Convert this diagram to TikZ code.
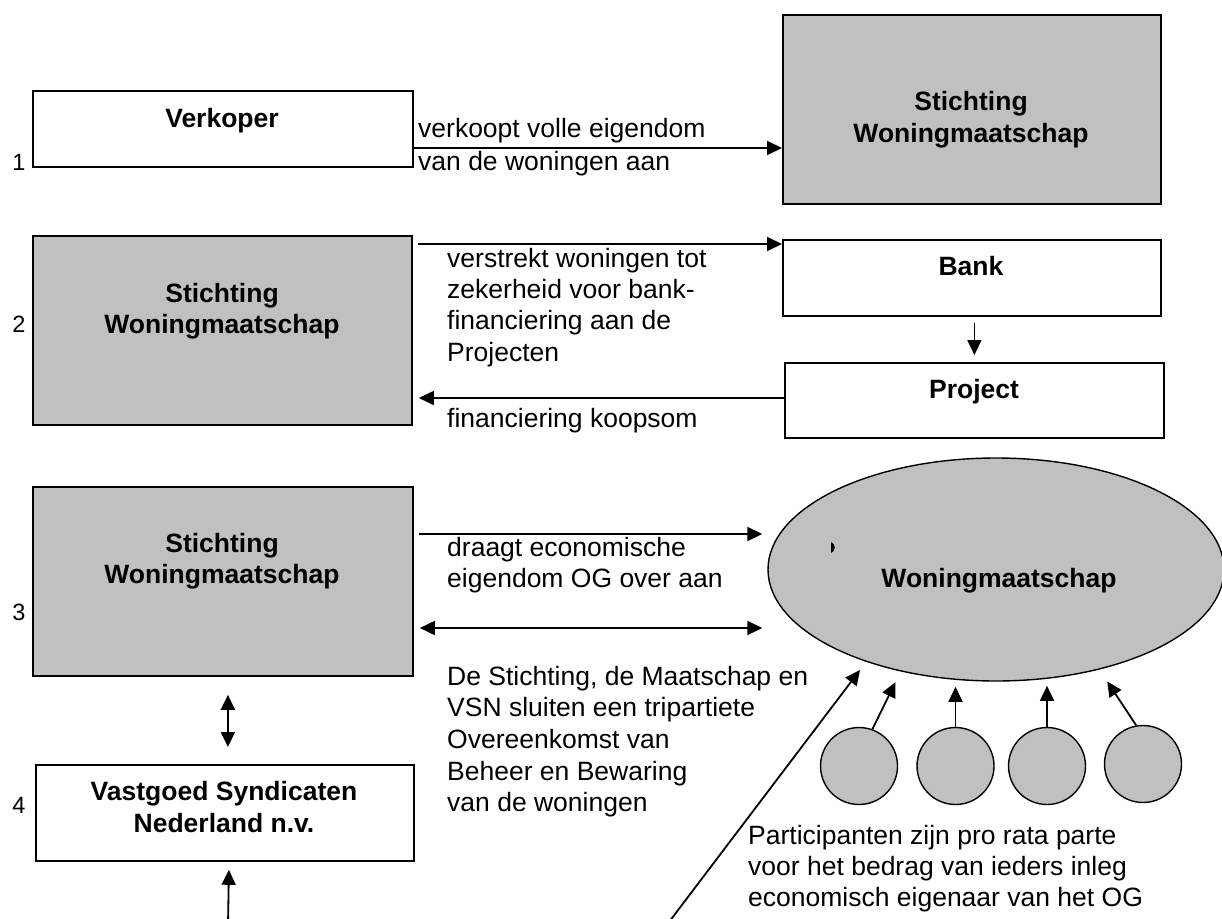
\documentclass[tikz,border=0pt]{standalone}
\usepackage{fontspec}
\setmainfont{Liberation Sans}
\usetikzlibrary{arrows.meta,calc,shapes.geometric}
\definecolor{boxgray}{RGB}{192,192,192}
\tikzset{
  box/.style={draw, line width=1.8pt, anchor=north west, inner sep=0pt},
  graybox/.style={box, fill=boxgray},
  bt/.style={font=\bfseries\fontsize{26.5}{31.5}\selectfont, anchor=base, inner sep=0pt},
  lt/.style={font=\fontsize{26.5}{31.5}\selectfont, anchor=base west, inner sep=0pt},
  num/.style={font=\fontsize{23.5}{28}\selectfont, anchor=base, inner sep=0pt},
  arr/.style={line width=1.8pt, -{Triangle[length=15pt,width=14pt]}},
  darr/.style={line width=1.8pt, {Triangle[length=15pt,width=14pt]}-{Triangle[length=15pt,width=14pt]}},
  part/.style={circle, draw, line width=1.4pt, fill=boxgray, minimum size=77pt, inner sep=0pt},
}
\begin{document}
\begin{tikzpicture}[x=1pt,y=-1pt]
\useasboundingbox (0,0) rectangle (1222,918);

% boxes
\node[box, minimum width=380pt, minimum height=76pt] (verk) at (32,90) {};
\node[graybox, minimum width=378pt, minimum height=189pt] (sw1) at (782,14) {};
\node[graybox, minimum width=379pt, minimum height=189pt] (sw2) at (32,235) {};
\node[box, minimum width=378pt, minimum height=76pt] (bank) at (782,239) {};
\node[box, minimum width=379pt, minimum height=75pt] (proj) at (784,362) {};
\node[graybox, minimum width=380pt, minimum height=189pt] (sw3) at (32,486) {};
\node[box, minimum width=378pt, minimum height=96pt] (vsn) at (35,764) {};
\node[ellipse, draw, line width=1.4pt, fill=boxgray, minimum width=456pt, minimum height=223pt, inner sep=0pt] (wm) at (996,569.5) {};
\node[part] (c1) at (859,766) {};
\node[part] (c2) at (955.5,766) {};
\node[part] (c3) at (1047,766) {};
\node[part] (c4) at (1143,764) {};

% small mark in ellipse
\fill (831,542) .. controls (836,544) and (836,551) .. (831,553) -- cycle;

% box texts
\node[bt] (tverk) at (222,127) {Verkoper};
\node[bt] (tsw1a) at (971,110) {Stichting};
\node[bt] (tsw1b) at (971,142) {Woningmaatschap};
\node[bt] (tsw2a) at (222,302) {Stichting};
\node[bt] (tsw2b) at (222,333) {Woningmaatschap};
\node[bt] (tbank) at (971,275) {Bank};
\node[bt] (tproj) at (974,398) {Project};
\node[bt] (tsw3a) at (222,552) {Stichting};
\node[bt] (tsw3b) at (222,583) {Woningmaatschap};
\node[bt] (tvsna) at (224,800) {Vastgoed Syndicaten};
\node[bt] (tvsnb) at (224,832) {Nederland n.v.};
\node[bt] (twm) at (999,587) {Woningmaatschap};

% row numbers
\node[num] (n1) at (19,170) {1};
\node[num] (n2) at (19,332) {2};
\node[num] (n3) at (19,620) {3};
\node[num] (n4) at (19,813) {4};

% labels
\node[lt] (l1a) at (418,137) {verkoopt volle eigendom};
\node[lt] (l1b) at (418,170) {van de woningen aan};
\foreach \t [count=\i from 0] in {verstrekt woningen tot, zekerheid voor bank-, financiering aan de, Projecten}
  \node[lt] (l2-\i) at (447,{267+31.4*\i}) {\t};
\node[lt] (l2k) at (447,427) {financiering koopsom};
\node[lt] (l3a) at (447,556) {draagt economische};
\node[lt] (l3b) at (447,587) {eigendom OG over aan};
\foreach \t [count=\i from 0] in {{De Stichting, de Maatschap en}, VSN sluiten een tripartiete, Overeenkomst van, Beheer en Bewaring, van de woningen}
  \node[lt] (l4-\i) at (447,{685+31.7*\i}) {\t};
\foreach \t [count=\i from 0] in {Participanten zijn pro rata parte, voor het bedrag van ieders inleg, economisch eigenaar van het OG}
  \node[lt] (l5-\i) at (748,{844+31*\i}) {\t};

% connectors
\draw[arr] (verk.east |- 0,148) -- (sw1.west |- 0,148);
\draw[arr] ($(sw2.east |- 0,244)+(5,0)$) -- (bank.west |- 0,244);
\draw[arr] ($(bank.south -| proj.north)+(0,6)$) -- ($(proj.north)+(0,-7)$);
\draw[arr] (proj.west |- 0,398) -- ($(sw2.east |- 0,398)+(6,0)$);
\draw[arr] ($(sw3.east |- 0,534)+(5,0)$) -- ($(wm.west |- 0,534)+(-5,0)$);
\draw[darr] ($(sw3.east |- 0,628)+(6,0)$) -- ($(wm.west |- 0,628)+(-5,0)$);
\draw[darr] ($(sw3.south)+(5,18)$) -- ($(vsn.north)+(3,-17)$);
\coordinate (vbot) at (228,925);
\draw[arr] (vbot) -- ($(vsn.south)+(4,8)$);
\coordinate (lbot) at (669,922);
\draw[arr] (lbot) -- ($(wm.center)+(-136,100.5)$);
\draw[arr] (c1.70) -- ++(23,-47);
\draw[arr] (c2.north) -- ++(0,-40);
\draw[arr] (c3.north) -- ++(0,-41);
\draw[arr] (c4.100) -- ++(-29,-44);
\end{tikzpicture}
\end{document}
